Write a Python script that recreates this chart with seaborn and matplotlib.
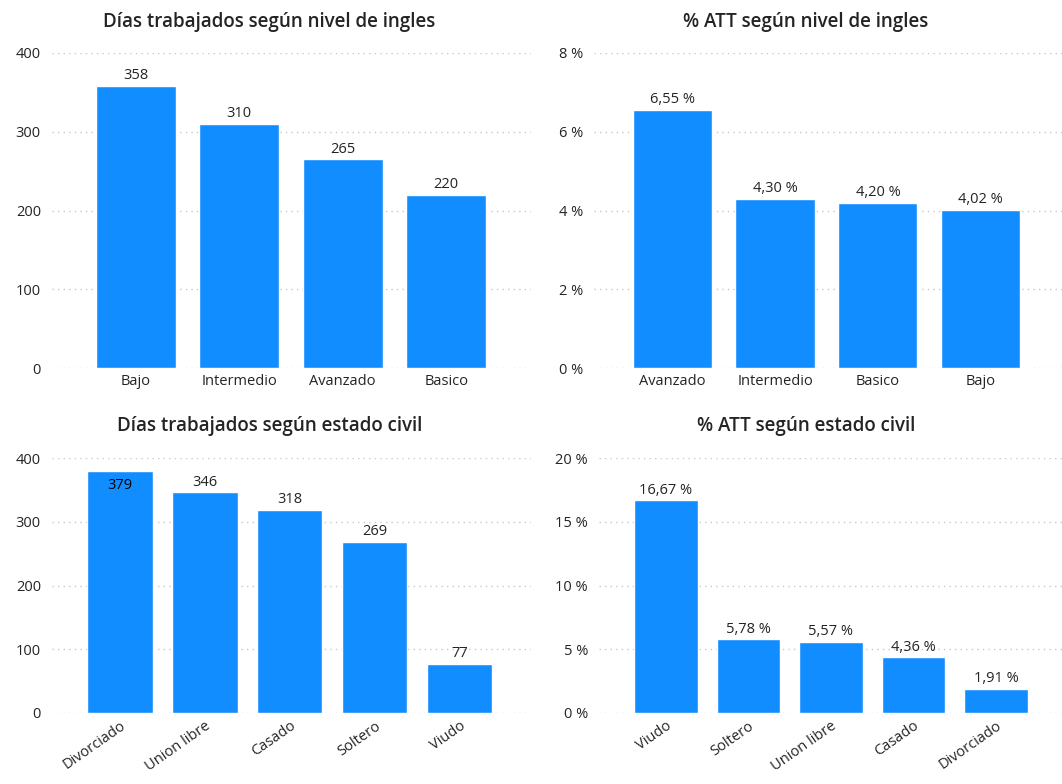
import matplotlib
matplotlib.use("Agg")
import matplotlib.pyplot as plt
import seaborn as sns
import pandas as pd

ingles_dias_cat = ["Bajo", "Intermedio", "Avanzado", "Basico"]
ingles_dias_val = [358, 310, 265, 220]

ingles_att_cat = ["Avanzado", "Intermedio", "Basico", "Bajo"]
ingles_att_val = [6.55, 4.30, 4.20, 4.02]

civil_dias_cat = ["Divorciado", "Union libre", "Casado", "Soltero", "Viudo"]
civil_dias_val = [379, 346, 318, 269, 77]

civil_att_cat = ["Viudo", "Soltero", "Union libre", "Casado", "Divorciado"]
civil_att_val = [16.67, 5.78, 5.57, 4.36, 1.91]

sns.set_theme(style="white")
plt.rcParams['font.family'] = ['Open Sans', 'DejaVu Sans']

BAR = "#118DFF"
TXT = "#252423"
GRID = "#c8c8c8"
W, H = 1062, 784
FS = 10.5

fig = plt.figure(figsize=(W / 100, H / 100), dpi=100)


def px_axes(left, right, top, bottom):
    return fig.add_axes([left / W, (H - bottom) / H, (right - left) / W, (bottom - top) / H])


def draw(ax, cats, vals, ymax, yticks, xlim, pct, rotate, inside=()):
    df = pd.DataFrame({"cat": cats, "val": vals})
    sns.barplot(data=df, x="cat", y="val", order=cats, color=BAR, saturation=1,
                width=0.77, ax=ax, zorder=3)
    ax.set_ylim(0, ymax)
    ax.set_xlim(*xlim)
    ax.set_yticks(yticks)
    if pct:
        ax.set_yticklabels([f"{t:g} %" for t in yticks])
    else:
        ax.set_yticklabels([f"{t:g}" for t in yticks])
    ax.set_xlabel("")
    ax.set_ylabel("")
    for s in ax.spines.values():
        s.set_visible(False)
    ax.yaxis.grid(True, linestyle=(0, (1, 3)), color=GRID, linewidth=1)
    ax.set_axisbelow(True)
    ax.tick_params(axis="y", length=0, pad=8, labelsize=FS, labelcolor=TXT)
    ax.tick_params(axis="x", length=0, pad=4, labelsize=FS, labelcolor=TXT)
    if rotate:
        for lab in ax.get_xticklabels():
            lab.set_rotation(35)
            lab.set_ha("right")
            lab.set_rotation_mode("anchor")
    for i, v in enumerate(vals):
        txt = f"{v:.2f} %".replace(".", ",") if pct else f"{v:d}"
        if i in inside:
            ax.annotate(txt, (i, v), xytext=(0, -5), textcoords="offset points",
                        ha="center", va="top", fontsize=FS, color="#000000")
        else:
            ax.annotate(txt, (i, v), xytext=(0, 2), textcoords="offset points",
                        ha="center", va="bottom", fontsize=FS, color=TXT)


ax1 = px_axes(52, 531, 53, 368)
draw(ax1, ingles_dias_cat, ingles_dias_val, 400, [0, 100, 200, 300, 400],
     (-0.81, 3.82), False, False)

ax2 = px_axes(594, 1062, 53, 368)
draw(ax2, ingles_att_cat, ingles_att_val, 8, [0, 2, 4, 6, 8],
     (-0.76, 3.79), True, False)

ax3 = px_axes(52, 531, 458, 713)
draw(ax3, civil_dias_cat, civil_dias_val, 400, [0, 100, 200, 300, 400],
     (-0.8, 4.84), False, True, inside=(0,))

ax4 = px_axes(599, 1062, 458, 713)
draw(ax4, civil_att_cat, civil_att_val, 20, [0, 5, 10, 15, 20],
     (-0.81, 4.8), True, True)

title_kw = dict(ha="center", va="center", fontsize=13.5, color=TXT, fontweight="semibold")
fig.text(269 / W, 1 - 22 / H, "Días trabajados según nivel de ingles", **title_kw)
fig.text(806 / W, 1 - 22 / H, "% ATT según nivel de ingles", **title_kw)
fig.text(270 / W, 1 - 426 / H, "Días trabajados según estado civil", **title_kw)
fig.text(806 / W, 1 - 426 / H, "% ATT según estado civil", **title_kw)

fig.savefig("out.png", dpi=100, facecolor="white")
